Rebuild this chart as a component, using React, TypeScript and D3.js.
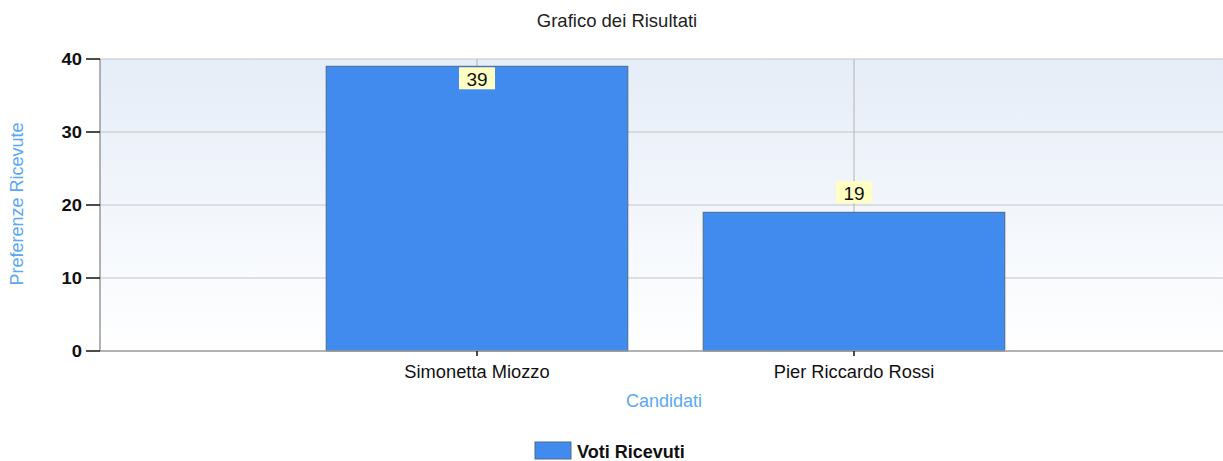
import React from "react";
import * as d3 from "d3";

const categories = ["Simonetta Miozzo", "Pier Riccardo Rossi"];
const values = [39, 19];
const yTicks = [0, 10, 20, 30, 40];
const seriesName = "Voti Ricevuti";
const title = "Grafico dei Risultati";
const xTitle = "Candidati";
const yTitle = "Preferenze Ricevute";

export default function App() {
  const W = 1223, H = 461;
  const left = 100, right = 1231, top = 59, bottom = 351;
  const x = d3.scalePoint<string>().domain(categories).range([left, right]).padding(1.0);
  const step = x.step();
  const bw = step * 0.8;
  const y = d3.scaleLinear().domain([0, 40]).range([bottom, top]);
  const font = "'Liberation Sans', Arial, sans-serif";
  return (
    <svg width={W} height={H} style={{ position: "absolute", left: 0, top: 0, background: "#fff" }}>
      <defs>
        <linearGradient id="bg" x1="0" y1="0" x2="0" y2="1">
          <stop offset="0" stopColor="#e5edf8" />
          <stop offset="1" stopColor="#ffffff" />
        </linearGradient>
      </defs>
      <text x={617} y={27} textAnchor="middle" fontFamily={font} fontSize={18.5} fill="#222">{title}</text>
      <rect x={left} y={top} width={right - left} height={bottom - top} fill="url(#bg)" />
      {yTicks.filter(t => t > 0).map(t => (
        <line key={t} x1={left} x2={right} y1={y(t)} y2={y(t)} stroke="#c4c4c4" strokeWidth={1} />
      ))}
      {categories.map(c => (
        <line key={c} x1={x(c)} x2={x(c)} y1={top} y2={bottom} stroke="#b4b4b4" strokeWidth={1} />
      ))}
      {categories.map((c, i) => (
        <rect key={c} x={(x(c) as number) - bw / 2} y={y(values[i])} width={bw} height={bottom - y(values[i])}
          fill="#418bee" stroke="#4a6a90" strokeWidth={1} />
      ))}
      {categories.map((c, i) => {
        const cx = x(c) as number;
        const inside = y(values[i]) - 24 < top;
        const by = inside ? y(values[i]) + 1 : y(values[i]) - 31;
        const label = String(values[i]);
        const lw = 36;
        return (
          <g key={c}>
            <rect x={cx - lw / 2} y={by} width={lw} height={22} fill="#ffffc4" />
            <text x={cx} y={by + 19} textAnchor="middle" fontFamily={font} fontSize={19} fill="#111">{label}</text>
          </g>
        );
      })}
      <line x1={left} x2={left} y1={top} y2={bottom} stroke="#999" strokeWidth={1.5} />
      <line x1={left} x2={right} y1={bottom} y2={bottom} stroke="#999" strokeWidth={1.5} />
      {yTicks.map(t => (
        <g key={t}>
          <line x1={left - 14} x2={left} y1={y(t)} y2={y(t)} stroke="#111" strokeWidth={1.5} />
          <text transform={`translate(${left - 18}, ${y(t) + 6}) scale(1.15,1)`} textAnchor="end" fontFamily={font} fontSize={16} fontWeight="bold" fill="#111">{t}</text>
        </g>
      ))}
      {categories.map(c => (
        <g key={c}>
          <line x1={x(c)} x2={x(c)} y1={bottom} y2={bottom + 5} stroke="#111" strokeWidth={1.5} />
          <text x={x(c)} y={378} textAnchor="middle" fontFamily={font} fontSize={18.3} fill="#111">{c}</text>
        </g>
      ))}
      <text x={664} y={407} textAnchor="middle" fontFamily={font} fontSize={18} fill="#5aa8f5">{xTitle}</text>
      <text transform={`translate(23, 204) rotate(-90)`} textAnchor="middle" fontFamily={font} fontSize={18} fill="#5aa8f5">{yTitle}</text>
      <rect x={535} y={442} width={36} height={17} fill="#418bee" stroke="#4a6a90" strokeWidth={1} />
      <text x={577} y={458} fontFamily={font} fontSize={18} fontWeight="bold" fill="#111">{seriesName}</text>
    </svg>
  );
}
